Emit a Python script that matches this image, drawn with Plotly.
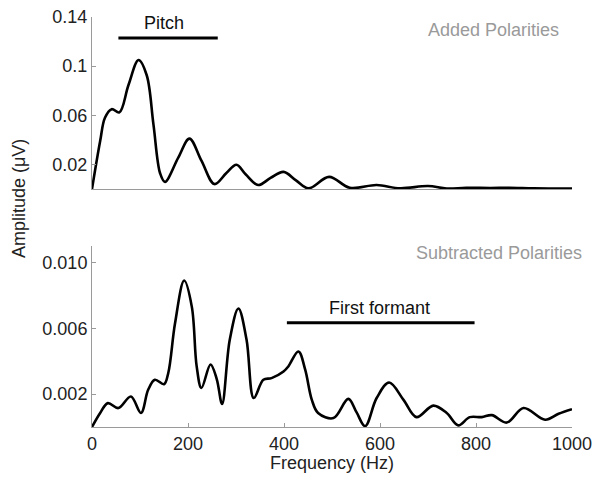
import plotly.graph_objects as go

# Added polarities spectrum (top)
freq_top = [0, 17, 27, 41, 57, 76, 97, 114, 128, 142, 152, 180, 203, 228, 255, 280, 301,
            320, 346, 372, 399, 425, 451, 494, 537, 593, 642, 700, 739, 780, 830, 870, 920, 1000]
amp_top = [0, 0.039, 0.058, 0.065, 0.0624, 0.0846, 0.105, 0.0926, 0.0526, 0.0126, 0.0058,
           0.0258, 0.041, 0.023, 0.004, 0.013, 0.0197, 0.012, 0.0032, 0.009, 0.0139, 0.007,
           0.0005, 0.0099, 0.001, 0.0032, 0.0006, 0.0024, 0.0004, 0.001, 0.0008, 0.001, 0.0005, 0.0003]

# Subtracted polarities spectrum (bottom)
freq_bot = [0, 17, 33, 55, 81, 102, 117, 131, 150, 159, 173, 192, 208, 218, 228, 247, 260, 271,
            287, 305, 322, 337, 357, 374, 399, 409, 430, 444, 458, 471, 503, 534, 551, 569, 593,
            619, 649, 676, 711, 739, 763, 787, 812, 833, 864, 899, 944, 972, 1000]
amp_bot = [0, 0.00085, 0.00145, 0.00115, 0.00185, 0.00085, 0.00226, 0.00287, 0.0026, 0.0033,
           0.0063, 0.0089, 0.0073, 0.0037, 0.00237, 0.0038, 0.0029, 0.0014, 0.0053, 0.0072,
           0.0053, 0.00176, 0.00287, 0.00297, 0.00337, 0.00368, 0.00459, 0.0035, 0.00165,
           0.00085, 0.00054, 0.00171, 0.0009, 0.00005, 0.00176, 0.0027, 0.00165, 0.0006, 0.0013,
           0.00085, 0.0001, 0.0006, 0.0006, 0.00072, 0.00027, 0.00115, 0.00044, 0.0008, 0.00108]

x_ticks = [0, 200, 400, 600, 800, 1000]
y_ticks_top = [0.02, 0.06, 0.1, 0.14]
y_ticks_top_text = ["0.02", "0.06", "0.1", "0.14"]
y_ticks_bot = [0.002, 0.006, 0.010]
y_ticks_bot_text = ["0.002", "0.006", "0.010"]

pitch_range = [55, 262]
pitch_level = 0.1229
formant_range = [406, 797]
formant_level = 0.00633

FONT = "Liberation Sans, Arial, sans-serif"
AX = "#9a9a9a"

fig = go.Figure()
fig.add_trace(go.Scatter(x=freq_top, y=amp_top, mode="lines",
                         line=dict(color="black", width=2.6, shape="spline", smoothing=1.0),
                         xaxis="x", yaxis="y", showlegend=False))
fig.add_trace(go.Scatter(x=freq_bot, y=amp_bot, mode="lines",
                         line=dict(color="black", width=2.6, shape="spline", smoothing=1.0),
                         xaxis="x2", yaxis="y2", showlegend=False))

axis_common = dict(showgrid=False, zeroline=False, showline=True, linecolor=AX, linewidth=1,
                   ticks="inside", tickcolor=AX, ticklen=4, tickwidth=1, automargin=False,
                   ticklabeloverflow="allow",
                   tickfont=dict(size=18, color="#222", family=FONT))

fig.update_layout(
    width=594, height=474,
    margin=dict(l=84, r=30, t=9, b=55),
    paper_bgcolor="white", plot_bgcolor="white",
    font=dict(family=FONT, size=18, color="#222"),
    xaxis=dict(domain=[0, 1], range=[0, 1000], anchor="y", showticklabels=False, automargin=False,
               showgrid=False, zeroline=False, showline=True, linecolor=AX, ticks=""),
    yaxis=dict(domain=[0.5805, 1], range=[0, 0.14], anchor="x",
               tickvals=y_ticks_top, ticktext=y_ticks_top_text, **axis_common),
    xaxis2=dict(domain=[0, 1], range=[0, 1000], anchor="y2", tickvals=x_ticks, **axis_common),
    yaxis2=dict(domain=[0, 0.4415], range=[0, 0.011], anchor="x2",
                tickvals=y_ticks_bot, ticktext=y_ticks_bot_text, **axis_common),
)

fig.add_shape(type="line", xref="x", yref="y", x0=pitch_range[0], x1=pitch_range[1],
              y0=pitch_level, y1=pitch_level, line=dict(color="black", width=3))
fig.add_shape(type="line", xref="x2", yref="y2", x0=formant_range[0], x1=formant_range[1],
              y0=formant_level, y1=formant_level, line=dict(color="black", width=3))

fig.add_annotation(text="Pitch", xref="x", yref="y", x=150, y=0.1351, showarrow=False,
                   font=dict(size=18, color="#111"))
fig.add_annotation(text="First formant", xref="x2", yref="y2", x=598, y=0.00725,
                   showarrow=False, font=dict(size=18, color="#111"))
fig.add_annotation(text="Added Polarities", xref="paper", yref="paper", x=0.977, y=0.968,
                   xanchor="right", yanchor="middle", showarrow=False,
                   font=dict(size=18, color="#9a9a9a"))
fig.add_annotation(text="Subtracted Polarities", xref="paper", yref="paper", x=1.025, y=0.4244,
                   xanchor="right", yanchor="middle", showarrow=False,
                   font=dict(size=18, color="#9a9a9a"))
fig.add_annotation(text="Amplitude (μV)", xref="paper", yref="paper", x=-0.152, y=0.556,
                   textangle=-90, showarrow=False, xanchor="center", yanchor="middle",
                   font=dict(size=18, color="#222"))
fig.add_annotation(text="Frequency (Hz)", xref="paper", yref="paper", x=0.5, y=-0.0878,
                   showarrow=False, xanchor="center", yanchor="middle",
                   font=dict(size=18, color="#222"))

fig.write_html("out.html")
